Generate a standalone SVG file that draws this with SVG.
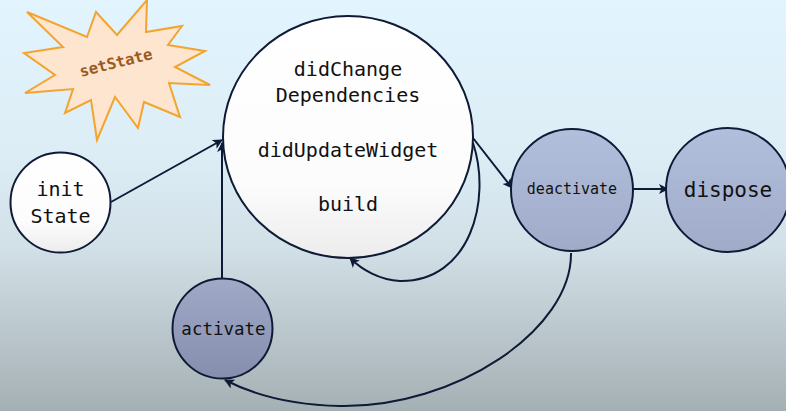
<svg xmlns="http://www.w3.org/2000/svg" width="786" height="411" viewBox="0 0 786 411">
<defs>
<linearGradient id="bg" x1="0" y1="0" x2="0" y2="1">
<stop offset="0" stop-color="#e2f4fd"/>
<stop offset="0.38" stop-color="#dcedf6"/>
<stop offset="0.6" stop-color="#d2e0e7"/>
<stop offset="1" stop-color="#a5b0b4"/>
</linearGradient>
<linearGradient id="white" x1="0" y1="0" x2="0" y2="1">
<stop offset="0" stop-color="#ffffff"/>
<stop offset="0.7" stop-color="#fcfcfc"/>
<stop offset="1" stop-color="#ececec"/>
</linearGradient>
<linearGradient id="blue" x1="0" y1="0" x2="0" y2="1">
<stop offset="0" stop-color="#b1bfdd"/>
<stop offset="1" stop-color="#a0abc8"/>
</linearGradient>
<linearGradient id="blueDark" x1="0" y1="0" x2="0" y2="1">
<stop offset="0" stop-color="#a0a9c6"/>
<stop offset="1" stop-color="#858ead"/>
</linearGradient>
<marker id="arr" viewBox="0 0 10 10" refX="9" refY="5" markerWidth="11" markerHeight="10" markerUnits="userSpaceOnUse" orient="auto">
<path d="M0,0 L10,5 L0,10 L2.5,5 Z" fill="#0f1b36"/>
</marker>
<style>
.node { stroke:#0f1b36; stroke-width:2; }
.lbl { font-family:"DejaVu Sans Mono","Liberation Mono",monospace; fill:#111; text-anchor:middle; }
.edge { fill:none; stroke:#0f1b36; stroke-width:2; }
</style>
</defs>
<rect x="0" y="0" width="786" height="411" fill="url(#bg)"/>

<g id="setState">
<polygon points="27,12 87,37 96,12 117,35 147,0 146,32 182,26 168,45 205,51 175,67 210,85 169,83 180,117 144,102 138,128 115,97 97,140 91,100 65,113 73,89 25,93 55,75 24,53 63,47" fill="#fde5cf" stroke="#f3a42e" stroke-width="2" stroke-linejoin="miter"/>
<text x="116" y="68" transform="rotate(-14 116 63)" font-family="DejaVu Sans Mono,Liberation Mono,monospace" font-size="15.5" font-weight="bold" fill="#9b5a1e" text-anchor="middle">setState</text>
</g>

<g id="connectors">
<line class="edge" x1="111" y1="202" x2="222" y2="140" marker-end="url(#arr)"/>
<line class="edge" x1="222" y1="279" x2="222" y2="143" marker-end="url(#arr)"/>
<line class="edge" x1="473" y1="138" x2="512" y2="188" marker-end="url(#arr)"/>
<line class="edge" x1="633" y1="189" x2="668" y2="189" marker-end="url(#arr)"/>
<path class="edge" d="M473,143 C492,200 470,282 400,281 C380,280 362,270 350,258" marker-end="url(#arr)"/>
<path class="edge" d="M571,253 C572,330 455,408 340,406 C290,405 252,394 225,380" marker-end="url(#arr)"/>
</g>

<g id="initState">
<circle class="node" cx="60.5" cy="202.5" r="50" fill="url(#white)"/>
<text class="lbl" x="60.5" y="196" font-size="20">init</text>
<text class="lbl" x="60.5" y="223" font-size="20">State</text>
</g>

<g id="main">
<ellipse class="node" cx="348" cy="137" rx="125" ry="121" fill="url(#white)"/>
<text class="lbl" x="348" y="76" font-size="20">didChange</text>
<text class="lbl" x="348" y="102" font-size="20">Dependencies</text>
<text class="lbl" x="348" y="157" font-size="20">didUpdateWidget</text>
<text class="lbl" x="348" y="211" font-size="20">build</text>
</g>

<g id="deactivate">
<circle class="node" cx="572" cy="190" r="61" fill="url(#blue)"/>
<text class="lbl" x="572" y="194" font-size="15">deactivate</text>
</g>

<g id="dispose">
<circle class="node" cx="728" cy="190" r="62" fill="url(#blue)"/>
<text class="lbl" x="728" y="197" font-size="21">dispose</text>
</g>

<g id="activate">
<circle class="node" cx="222.5" cy="328.5" r="50" fill="url(#blueDark)"/>
<text class="lbl" x="223.5" y="335" font-size="17.5">activate</text>
</g>
</svg>
